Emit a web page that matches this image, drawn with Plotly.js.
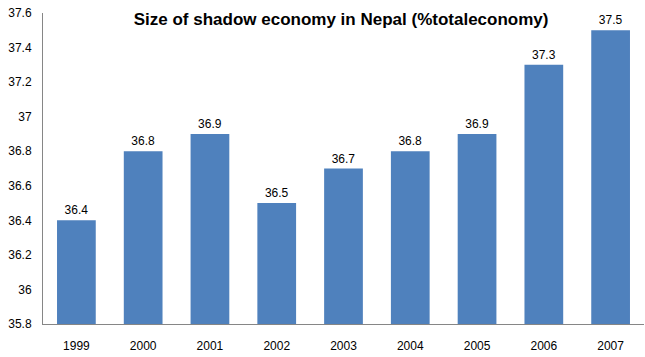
<!DOCTYPE html>
<html><head><meta charset="utf-8">
<script src="https://cdn.plot.ly/plotly-3.0.1.min.js"></script>
<style>html,body{margin:0;padding:0;background:#fff}#chart{width:645px;height:357px}</style>
</head><body><div id="chart"></div>
<script>
const years = ['1999','2000','2001','2002','2003','2004','2005','2006','2007'];
const shadowShare = [36.4, 36.8, 36.9, 36.5, 36.7, 36.8, 36.9, 37.3, 37.5];
const yTicks = [35.8, 36, 36.2, 36.4, 36.6, 36.8, 37, 37.2, 37.4, 37.6];
const yTickText = ['35.8','36','36.2','36.4','36.6','36.8','37','37.2','37.4','37.6'];
const titleText = 'Size of shadow economy in Nepal (%totaleconomy)';
const axisMin = 35.8;

const trace = {
  type: 'bar', x: years,
  y: shadowShare.map(v => +(v - axisMin).toFixed(2)),
  base: axisMin,
  marker: {color: '#4F81BD'},
  text: shadowShare.map(v => v.toFixed(1)),
  textposition: 'outside', cliponaxis: false,
  textfont: {family: 'Liberation Sans, Arial, sans-serif', size: 12, color: '#000'},
  hoverinfo: 'none'
};
const layout = {
  width: 645, height: 357,
  margin: {l: 43, r: 1, t: 13, b: 33},
  paper_bgcolor: '#fff', plot_bgcolor: '#fff',
  bargap: 0.42,
  showlegend: false,
  font: {family: 'Liberation Sans, Arial, sans-serif', size: 12, color: '#000'},
  title: {text: '<b>' + titleText + '</b>', font: {size: 17, color: '#000'},
          x: 0.496, xanchor: 'center', y: 1 - 19/357, yanchor: 'middle', xref: 'paper', yref: 'container'},
  xaxis: {type: 'category', showline: true, linecolor: '#868686', linewidth: 1,
          ticks: '', showgrid: false, zeroline: false, tickfont: {size: 12}, ticklabelstandoff: 11},
  yaxis: {range: [35.8, 37.6], tickvals: yTicks, ticktext: yTickText, showline: true,
          linecolor: '#868686', linewidth: 1, ticks: '', showgrid: false, zeroline: false,
          tickfont: {size: 12}, ticklabelstandoff: 8}
};
Plotly.newPlot('chart', [trace], layout, {displayModeBar: false, staticPlot: true});
</script></body></html>
